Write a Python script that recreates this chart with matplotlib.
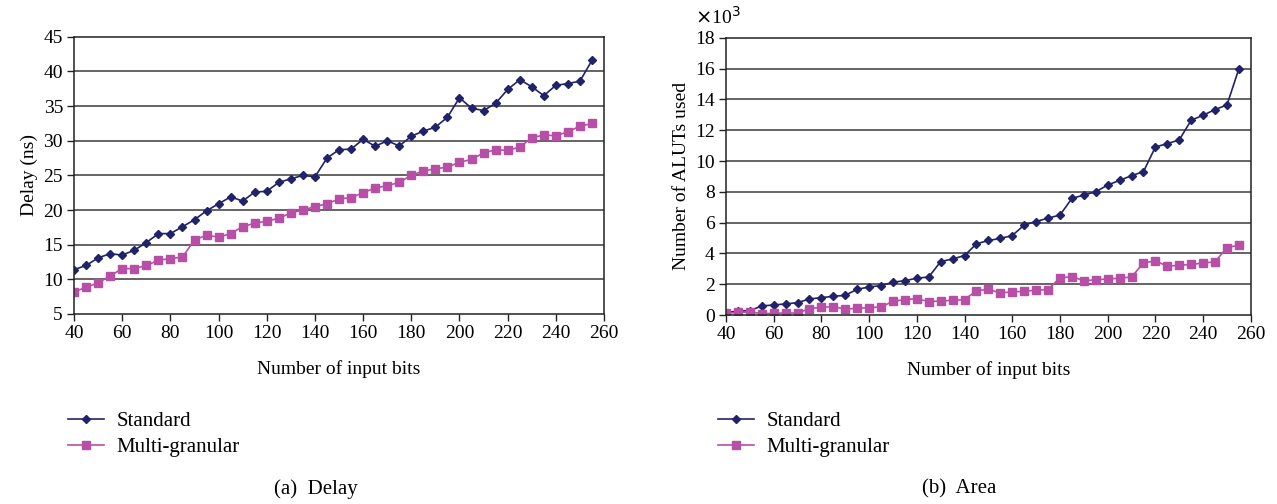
import matplotlib
matplotlib.use('Agg')
import matplotlib.pyplot as plt

plt.rcParams['font.family'] = ['Liberation Serif', 'DejaVu Serif']

bits = list(range(40, 256, 5))

delay_standard = [11.4, 12.0, 13.1, 13.7, 13.5, 14.2, 15.3, 16.6, 16.6, 17.6,
                  18.6, 19.9, 20.9, 21.9, 21.3, 22.6, 22.7, 24.0, 24.5, 25.0,
                  24.8, 27.5, 28.7, 28.8, 30.2, 29.2, 30.0, 29.25, 30.65, 31.4,
                  31.95, 33.4, 36.2, 34.7, 34.35, 35.4, 37.4, 38.8, 37.8, 36.5,
                  38.0, 38.25, 38.6, 41.6]
delay_multi = [8.2, 8.85, 9.5, 10.5, 11.55, 11.55, 12.0, 12.75, 13.0, 13.2,
               15.7, 16.35, 16.1, 16.6, 17.6, 18.1, 18.4, 18.8, 19.6, 20.0,
               20.5, 20.9, 21.6, 21.8, 22.5, 23.2, 23.5, 24.0, 25.0, 25.65,
               25.95, 26.2, 26.9, 27.3, 28.25, 28.7, 28.6, 29.1, 30.4, 30.85,
               30.7, 31.3, 32.1, 32.5]

# ALUTs in thousands
area_standard = [0.15, 0.26, 0.28, 0.59, 0.65, 0.72, 0.80, 1.04, 1.13, 1.21,
                 1.28, 1.67, 1.82, 1.91, 2.13, 2.23, 2.39, 2.47, 3.47, 3.64,
                 3.86, 4.62, 4.84, 4.97, 5.16, 5.84, 6.07, 6.29, 6.49, 7.57,
                 7.79, 8.0, 8.44, 8.74, 9.05, 9.31, 10.91, 11.13, 11.37, 12.65,
                 12.97, 13.34, 13.64, 15.99]
area_multi = [0.11, 0.17, 0.2, 0.09, 0.11, 0.13, 0.13, 0.41, 0.5, 0.54,
              0.39, 0.43, 0.48, 0.52, 0.89, 1.0, 1.06, 0.87, 0.91, 0.95,
              1.0, 1.58, 1.67, 1.43, 1.5, 1.54, 1.61, 1.65, 2.41, 2.49,
              2.23, 2.28, 2.34, 2.39, 2.47, 3.38, 3.51, 3.17, 3.23, 3.28,
              3.38, 3.45, 4.38, 4.53]

navy = '#22226a'
pink = '#b84fa6'
fs = 14

fig = plt.figure(figsize=(12.77, 5.04), dpi=100)
ax1 = fig.add_axes([0.058, 0.377, 0.415, 0.55])
ax2 = fig.add_axes([0.5685, 0.375, 0.411, 0.55])


def style(ax, yticks):
    ax.set_xlim(40, 260)
    ax.set_xticks(range(40, 261, 20))
    ax.set_ylim(yticks[0], yticks[-1])
    ax.set_yticks(yticks)
    for y in yticks[1:-1]:
        ax.axhline(y, color='#3a3a3a', lw=1.1, zorder=0)
    for s in ax.spines.values():
        s.set_color('#222222')
        s.set_linewidth(1.1)
    ax.tick_params(direction='out', length=5, width=1, labelsize=fs,
                   color='#222222', pad=3)
    ax.set_xlabel('Number of input bits', fontsize=fs, labelpad=13)


def draw(ax, std, multi):
    a, = ax.plot(bits, std, color=navy, marker='D', ms=4.5, lw=1.2,
                 label='Standard')
    b, = ax.plot(bits, multi, color=pink, marker='s', ms=6, lw=1.2,
                 label='Multi-granular')
    return [a, b]


h1 = draw(ax1, delay_standard, delay_multi)
style(ax1, list(range(5, 46, 5)))
ax1.set_ylabel('Delay (ns)', fontsize=fs)

h2 = draw(ax2, area_standard, area_multi)
style(ax2, list(range(0, 19, 2)))
ax2.set_ylabel('Number of ALUTs used', fontsize=fs)
ax2.text(-0.015, 1.035, r'$\times$10$^3$', transform=ax2.transAxes,
         fontsize=fs, ha='center', va='bottom')

for hs, x0 in ((h1, 0.047), (h2, 0.556)):
    fig.legend(handles=hs, loc='upper left', bbox_to_anchor=(x0, 0.2),
               frameon=False, fontsize=15, handlelength=1.7,
               handletextpad=0.6, labelspacing=0.3, borderaxespad=0,
               markerscale=0.85)

fig.text(0.2475, 0.02, '(a)  Delay', ha='center', fontsize=15)
fig.text(0.751, 0.02, '(b)  Area', ha='center', fontsize=15)

fig.savefig('out.png', dpi=100)
